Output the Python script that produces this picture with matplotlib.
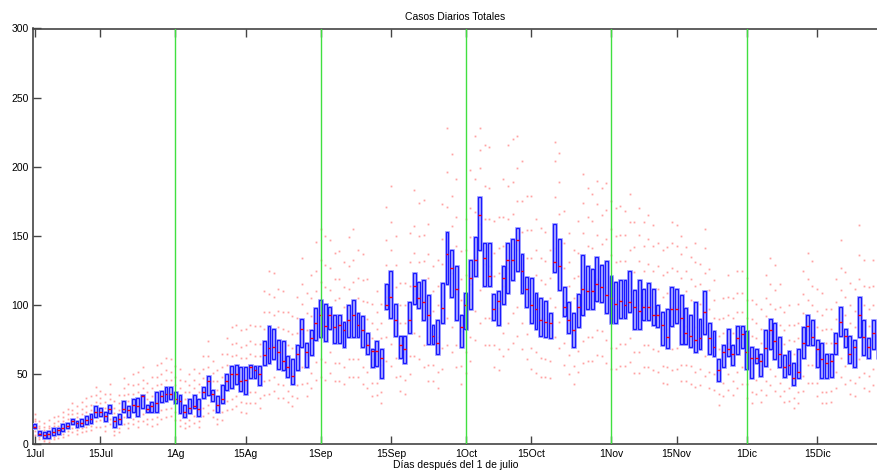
import matplotlib
matplotlib.use("Agg")
import matplotlib.pyplot as plt
import numpy as np

plt.rcParams['font.family'] = ['Liberation Sans', 'DejaVu Sans']

# Day index 0 = 1 July
Q1 = [11, 6, 4, 4, 6, 7, 9, 11, 14, 12, 13, 14, 15, 19, 20, 16, 22, 12, 14, 23,
      19, 23, 20, 26, 23, 23, 23, 30, 31, 32, 29, 22, 19, 22, 26, 20, 33, 35, 31, 23,
      29, 39, 40, 43, 38, 36, 47, 47, 42, 57, 58, 61, 54, 53, 48, 43, 53, 70, 55, 64,
      75, 77, 74, 83, 73, 73, 70, 77, 77, 77, 70, 65, 55, 56, 47, 97, 91, 78, 62, 58,
      80, 101, 98, 89, 72, 72, 65, 87, 115, 106, 89, 70, 83, 97, 121, 140, 114, 114, 89, 86,
      101, 109, 118, 125, 109, 99, 87, 83, 78, 77, 76, 124, 111, 92, 80, 70, 84, 93, 97, 97,
      103, 102, 94, 87, 87, 91, 91, 95, 83, 83, 89, 89, 86, 84, 71, 69, 85, 87, 72, 72,
      70, 66, 68, 79, 65, 63, 45, 55, 63, 57, 65, 69, 54, 47, 58, 49, 56, 68, 61, 55,
      48, 50, 42, 47, 62, 71, 71, 55, 47, 47, 48, 65, 78, 70, 58, 55, 77, 64, 62, 68, 61]
Q3 = [14, 9, 8, 9, 11, 11, 14, 15, 18, 16, 18, 20, 21, 27, 26, 23, 28, 19, 21, 31,
      27, 32, 33, 35, 28, 30, 37, 38, 41, 41, 37, 35, 28, 32, 35, 32, 41, 49, 39, 34,
      42, 50, 56, 57, 55, 55, 57, 56, 56, 74, 85, 83, 75, 74, 63, 61, 71, 90, 73, 82,
      98, 104, 101, 99, 93, 93, 88, 100, 104, 94, 92, 80, 68, 74, 68, 115, 125, 101, 78, 78,
      102, 123, 117, 118, 107, 86, 89, 116, 153, 140, 128, 93, 109, 133, 149, 178, 145, 145, 108, 110,
      128, 145, 148, 156, 137, 120, 120, 109, 105, 103, 94, 159, 148, 113, 102, 94, 108, 136, 128, 126,
      135, 129, 132, 121, 117, 118, 118, 125, 111, 118, 112, 116, 112, 100, 95, 97, 113, 112, 107, 98,
      93, 102, 90, 110, 87, 81, 61, 71, 83, 71, 85, 85, 81, 70, 68, 65, 82, 90, 87, 77,
      64, 67, 58, 68, 84, 93, 89, 75, 73, 65, 65, 80, 99, 83, 78, 75, 106, 89, 76, 89, 79]
MED = [12, 7, 6, 7, 8, 10, 11, 13, 16, 15, 15, 17, 18, 23, 23, 20, 25, 16, 18, 25,
       24, 28, 27, 34, 25, 27, 29, 34, 36, 36, 32, 31, 23, 26, 27, 25, 37, 45, 36, 28,
       32, 45, 50, 50, 45, 46, 55, 53, 50, 64, 69, 70, 66, 60, 55, 49, 65, 83, 66, 76,
       87, 93, 85, 93, 84, 86, 82, 89, 93, 86, 82, 71, 67, 67, 62, 100, 106, 89, 71, 68,
       89, 114, 105, 102, 93, 78, 73, 98, 137, 127, 112, 84, 100, 120, 133, 165, 134, 121, 97, 103,
       120, 133, 133, 147, 125, 112, 100, 97, 89, 88, 87, 131, 128, 99, 89, 82, 99, 112, 110, 110,
       115, 113, 107, 105, 101, 103, 100, 102, 99, 96, 99, 99, 93, 93, 86, 77, 97, 97, 91, 80,
       78, 75, 76, 95, 76, 70, 53, 66, 68, 65, 76, 79, 66, 62, 62, 60, 69, 82, 74, 65,
       55, 57, 47, 52, 73, 85, 77, 68, 61, 58, 60, 73, 88, 78, 65, 70, 93, 77, 70, 80, 70]

DOTS = [
 [6, 9, 13, 16, 18, 21], [3, 5, 8, 11, 13, 16], [2, 3, 6, 10, 12, 15], [1, 3, 6, 11, 13, 17],
 [3, 5, 9, 13, 15, 19], [4, 6, 9, 13, 16, 20], [5, 7, 12, 16, 19, 23], [6, 9, 13, 18, 21, 25],
 [8, 11, 16, 21, 24, 29], [7, 10, 14, 19, 22, 27], [8, 11, 15, 21, 25, 30], [9, 12, 17, 23, 27, 33],
 [10, 13, 18, 24, 28, 34], [12, 16, 23, 30, 35, 41], [12, 17, 23, 29, 33, 38], [9, 13, 20, 26, 30, 36],
 [14, 18, 25, 32, 36, 43], [6, 9, 16, 22, 26, 31], [8, 11, 18, 24, 29, 35], [14, 19, 26, 35, 40, 47],
 [11, 15, 24, 31, 36, 43], [14, 18, 28, 36, 42, 50], [12, 16, 27, 37, 43, 52], [16, 21, 31, 40, 46, 55],
 [14, 18, 25, 32, 37, 44], [13, 18, 27, 34, 40, 48], [14, 19, 30, 42, 48, 57], [18, 24, 34, 43, 50, 58],
 [19, 25, 36, 46, 53, 62], [20, 26, 37, 46, 52, 61], [17, 23, 33, 42, 48, 56], [13, 17, 30, 40, 46, 54],
 [11, 15, 24, 32, 37, 45], [13, 17, 27, 37, 42, 50], [15, 20, 30, 40, 46, 54], [12, 16, 26, 37, 43, 51],
 [20, 26, 37, 47, 54, 63], [22, 28, 43, 55, 63, 74], [19, 24, 35, 45, 51, 60], [14, 18, 29, 39, 45, 53],
 [17, 23, 34, 48, 55, 65], [24, 31, 45, 57, 65, 76], [25, 32, 48, 63, 72, 84], [27, 34, 50, 64, 73, 86],
 [23, 30, 46, 62, 70, 82], [22, 29, 45, 62, 71, 83], [29, 37, 52, 65, 74, 86], [29, 37, 51, 63, 72, 85],
 [26, 33, 49, 63, 72, 85], [35, 45, 66, 83, 95, 110], [36, 46, 70, 95, 108, 125], [38, 48, 71, 93, 106, 123],
 [33, 43, 64, 84, 96, 112], [33, 42, 62, 83, 95, 110], [30, 38, 55, 71, 81, 95], [27, 34, 51, 69, 79, 92],
 [33, 42, 62, 80, 91, 106], [43, 55, 80, 101, 115, 134], [34, 44, 64, 82, 94, 109], [40, 51, 73, 92, 105, 122],
 [46, 59, 87, 110, 125, 146], [48, 61, 90, 117, 133, 155], [46, 59, 88, 113, 129, 150], [51, 66, 91, 111, 127, 147],
 [45, 58, 83, 104, 119, 138], [45, 58, 84, 105, 119, 139], [43, 55, 79, 99, 113, 131], [48, 61, 88, 112, 128, 149],
 [48, 61, 90, 117, 133, 155], [48, 61, 85, 105, 120, 140], [43, 55, 81, 103, 118, 137], [40, 52, 72, 90, 102, 119],
 [34, 44, 61, 76, 87, 101], [35, 44, 65, 83, 95, 110], [29, 37, 57, 76, 87, 101], [60, 77, 106, 129, 147, 171],
 [56, 72, 108, 140, 160, 186], [48, 62, 89, 113, 129, 150], [38, 49, 70, 87, 100, 116], [36, 46, 68, 87, 100, 116],
 [50, 63, 91, 114, 131, 152], [63, 80, 112, 138, 157, 183], [61, 78, 108, 131, 150, 174], [55, 71, 103, 132, 151, 176],
 [45, 57, 90, 120, 137, 159], [45, 57, 79, 96, 110, 128], [40, 52, 77, 100, 114, 133], [54, 69, 101, 130, 148, 173],
 [71, 91, 134, 171, 196, 228], [66, 84, 123, 157, 179, 209], [55, 71, 108, 143, 164, 191], [43, 56, 81, 104, 119, 139],
 [51, 66, 96, 122, 140, 162], [60, 77, 115, 149, 170, 198], [75, 96, 135, 167, 191, 222], [87, 111, 159, 199, 212, 228],
 [71, 91, 130, 162, 186, 216], [71, 91, 128, 162, 185, 214], [55, 71, 98, 121, 138, 161], [53, 68, 98, 123, 141, 164],
 [63, 80, 114, 143, 164, 191], [68, 87, 127, 162, 186, 216], [73, 94, 133, 166, 189, 220], [78, 99, 140, 175, 199, 222],
 [68, 87, 123, 153, 175, 204], [61, 79, 109, 134, 154, 179], [54, 69, 103, 134, 154, 179], [51, 66, 96, 122, 140, 162],
 [48, 62, 91, 118, 134, 156], [48, 61, 90, 115, 132, 153], [47, 60, 85, 105, 120, 140], [77, 99, 141, 178, 204, 218],
 [69, 88, 130, 166, 189, 210], [57, 73, 102, 127, 145, 168], [50, 64, 91, 114, 131, 152], [43, 56, 82, 105, 120, 140],
 [52, 67, 96, 121, 138, 161], [58, 74, 114, 152, 174, 195], [60, 77, 112, 143, 164, 185], [60, 77, 111, 141, 161, 180],
 [64, 82, 119, 151, 173, 190], [63, 81, 115, 144, 165, 185], [58, 75, 113, 148, 169, 188], [54, 69, 104, 136, 155, 175],
 [54, 69, 102, 131, 150, 170], [56, 72, 104, 132, 151, 172], [56, 72, 104, 132, 151, 168], [59, 76, 110, 140, 160, 180],
 [51, 66, 97, 124, 142, 160], [51, 66, 100, 132, 151, 170], [55, 71, 100, 125, 143, 160], [55, 71, 102, 130, 148, 165],
 [53, 68, 99, 125, 143, 158], [52, 67, 92, 112, 128, 145], [44, 56, 83, 106, 122, 140], [43, 55, 83, 109, 124, 142],
 [53, 68, 99, 127, 145, 160], [54, 69, 99, 125, 143, 158], [45, 57, 89, 120, 137, 150], [45, 57, 85, 110, 125, 142],
 [43, 56, 81, 104, 119, 135], [41, 52, 84, 114, 131, 145], [42, 54, 79, 101, 115, 130], [49, 63, 95, 123, 141, 155],
 [40, 52, 76, 97, 111, 126], [39, 50, 72, 91, 104, 118], [28, 36, 53, 68, 78, 90], [34, 44, 63, 80, 91, 105],
 [39, 50, 73, 93, 106, 122], [35, 45, 64, 80, 91, 105], [40, 52, 75, 95, 109, 125], [43, 55, 77, 95, 109, 125],
 [33, 43, 67, 91, 104, 120], [29, 37, 58, 78, 90, 104], [36, 46, 63, 76, 87, 101], [30, 39, 57, 73, 83, 97],
 [35, 45, 69, 92, 105, 122], [42, 54, 79, 101, 115, 134], [38, 49, 74, 97, 111, 129], [34, 44, 66, 86, 99, 115],
 [30, 38, 56, 72, 82, 95], [31, 40, 58, 75, 86, 100], [26, 33, 50, 65, 74, 86], [29, 37, 57, 76, 87, 101],
 [38, 49, 73, 94, 108, 125], [44, 57, 82, 104, 119, 138], [44, 57, 80, 100, 114, 132], [34, 44, 65, 84, 96, 112],
 [29, 37, 60, 82, 93, 109], [29, 37, 56, 73, 83, 97], [30, 38, 56, 73, 83, 97], [40, 52, 72, 90, 102, 119],
 [48, 62, 88, 111, 127, 147], [43, 56, 76, 93, 106, 124], [36, 46, 68, 87, 100, 116], [34, 44, 65, 84, 96, 112],
 [48, 61, 91, 119, 136, 158], [40, 51, 76, 100, 114, 133], [38, 49, 69, 85, 97, 113], [42, 54, 78, 100, 114, 133],
 [38, 49, 70, 88, 101, 118],
]

TICK_POS = [0, 14, 30, 45, 61, 76, 92, 106, 123, 137, 152, 167]
TICK_LABELS = ['1Jul', '15Jul', '1Ag', '15Ag', '1Sep', '15Sep', '1Oct', '15Oct',
               '1Nov', '15Nov', '1Dic', '15Dic']
MONTH_LINES = [30, 61, 92, 123, 152]

days = np.arange(len(MED))
q1 = np.array(Q1)
q3 = np.array(Q3)
med = np.array(MED)

fig = plt.figure(figsize=(8.78, 4.70), dpi=100)
ax = fig.add_axes([32.7 / 878, 26.5 / 470, (878 - 32.7) / 878, 415 / 470])

# scattered samples
dx = np.concatenate([[d] * len(v) for d, v in zip(days, DOTS)])
dy = np.concatenate([v for v in DOTS])
ax.plot(dx, dy, 's', ms=1.3, color=(1.0, 0.2, 0.2), alpha=0.45, mec='none', zorder=2)

# boxes
ax.bar(days, q3 - q1, bottom=q1, width=0.62, facecolor='none',
       edgecolor=(0.65, 0.65, 1.0), linewidth=2.0, zorder=3)
ax.bar(days, q3 - q1, bottom=q1, width=0.62, facecolor='none',
       edgecolor=(0.1, 0.1, 1.0), linewidth=0.9, zorder=4)
ax.hlines(med, days - 0.31, days + 0.31, colors='red', linewidth=1.0, zorder=5)

for xv in MONTH_LINES:
    ax.axvline(xv, color=(0.25, 0.88, 0.25), linewidth=1.0, zorder=6)

ax.set_xlim(-0.45, 180.0)
ax.set_ylim(0, 300)
ax.set_yticks(range(0, 301, 50))
ax.set_xticks(TICK_POS)
ax.set_xticklabels(TICK_LABELS)
ax.tick_params(axis='both', direction='in', length=6, width=1.0, color='#444444',
               labelsize=7.5, top=True, right=False)
ax.tick_params(axis='x', pad=4)
ax.tick_params(axis='y', pad=3)
for s in ['left', 'bottom', 'top']:
    ax.spines[s].set_color('#444444')
    ax.spines[s].set_linewidth(1.2)
ax.spines['right'].set_visible(False)

ax.set_title('Casos Diarios Totales', fontsize=7.5, pad=6)
ax.set_xlabel('Días después del 1 de julio', fontsize=7.5, labelpad=1)

fig.savefig('out.png', dpi=100)
